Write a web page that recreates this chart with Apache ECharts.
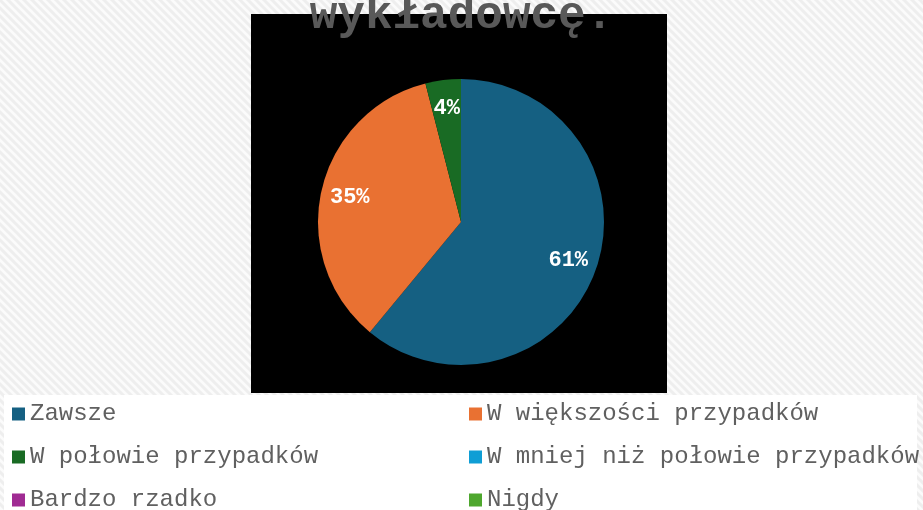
<!DOCTYPE html>
<html>
<head>
<meta charset="utf-8">
<script src="https://cdn.jsdelivr.net/npm/echarts@6/dist/echarts.min.js"></script>
<style>
  html, body { margin: 0; padding: 0; }
  #main { width: 923px; height: 510px; }
</style>
</head>
<body>
<div id="main"></div>
<script>
// dane z wykresu (procenty)
const categories = ['Zawsze', 'W większości przypadków', 'W połowie przypadków',
  'W mniej niż połowie przypadków', 'Bardzo rzadko', 'Nigdy'];
const values = [61, 35, 4, 0, 0, 0];
const colors = ['#156082', '#e97132', '#196b24', '#0f9ed5', '#a02b93', '#4ea72e'];
const titleText = 'wykładowcę.';

// tło w ukośne paski
function makeHatch() {
  let c = document.createElement('canvas');
  c.width = 8; c.height = 8;
  let ctx = c.getContext('2d');
  ctx.fillStyle = '#fbfbfb';
  ctx.fillRect(0, 0, 8, 8);
  ctx.strokeStyle = '#eeeeee';
  ctx.lineWidth = 3;
  ctx.beginPath();
  ctx.moveTo(-2, -2); ctx.lineTo(10, 10);
  ctx.moveTo(-10, -2); ctx.lineTo(2, 10);
  ctx.moveTo(6, -2); ctx.lineTo(18, 10);
  ctx.stroke();
  return c;
}

let chartDom = document.getElementById('main');
let myChart = echarts.init(chartDom);

let pieData = categories.map((name, i) => ({ name: name, value: values[i] }));
let labelData = categories.map((name, i) => ({
  name: name,
  value: values[i],
  label: { show: values[i] > 0 }
}));

let option = {
  animation: false,
  backgroundColor: { image: makeHatch(), repeat: 'repeat' },
  color: colors,
  graphic: [
    { type: 'rect', z: 0, shape: { x: 4, y: 395, width: 913, height: 115 }, style: { fill: '#ffffff' } },
    { type: 'rect', z: 0, shape: { x: 251, y: 14, width: 416, height: 379 }, style: { fill: '#000000' } }
  ],
  title: {
    text: titleText,
    left: 'center',
    top: -12,
    textStyle: {
      fontFamily: 'Liberation Mono',
      fontSize: 46,
      fontWeight: 'bold',
      color: '#595959'
    }
  },
  legend: {
    data: categories,
    left: 12,
    top: 402,
    width: 910,
    padding: 0,
    icon: 'rect',
    itemWidth: 13,
    itemHeight: 13,
    itemGap: 19,
    selectedMode: false,
    textStyle: {
      fontFamily: 'Liberation Mono',
      fontSize: 24,
      lineHeight: 24,
      color: '#606060',
      width: 420
    }
  },
  series: [
    {
      name: 'main',
      type: 'pie',
      center: [461, 222],
      radius: 143,
      startAngle: 90,
      silent: true,
      label: { show: false },
      labelLine: { show: false },
      itemStyle: { borderWidth: 0 },
      data: pieData
    },
    {
      name: 'labels',
      type: 'pie',
      center: [461, 222],
      radius: 222,
      startAngle: 90,
      silent: true,
      itemStyle: { color: 'transparent', borderWidth: 0 },
      label: {
        position: 'inside',
        formatter: '{d}%',
        fontFamily: 'Liberation Mono',
        fontSize: 22,
        fontWeight: 'bold',
        color: '#ffffff'
      },
      labelLine: { show: false },
      data: labelData
    }
  ]
};

option && myChart.setOption(option);
</script>
</body>
</html>
